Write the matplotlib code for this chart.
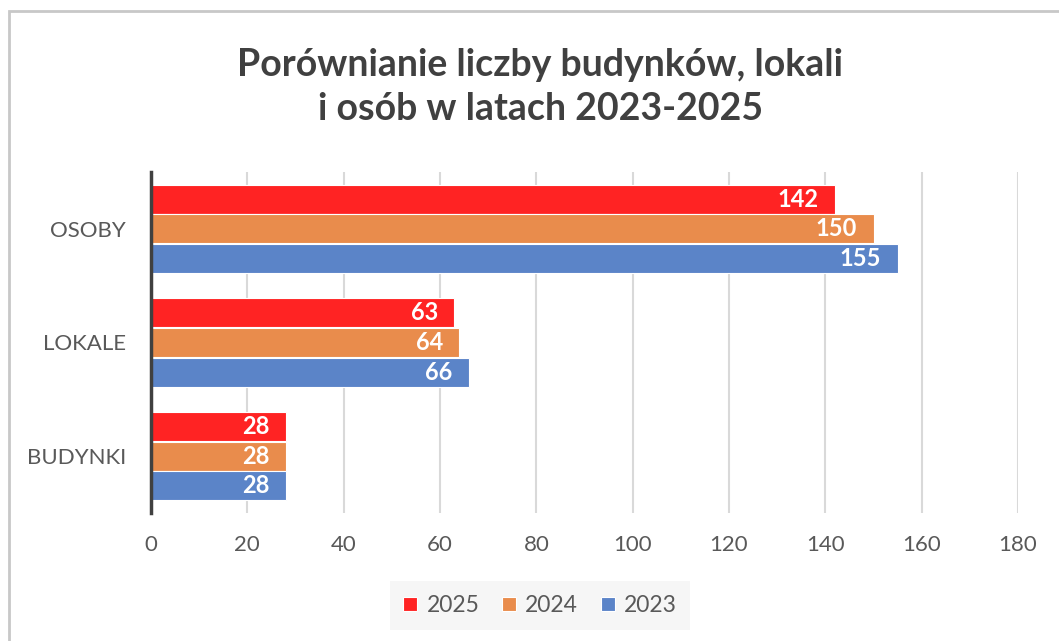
import matplotlib.pyplot as plt
from matplotlib.patches import Rectangle
import numpy as np

categories = ["BUDYNKI", "LOKALE", "OSOBY"]
years = ["2025", "2024", "2023"]
values = {
    "2025": [28, 63, 142],
    "2024": [28, 64, 150],
    "2023": [28, 66, 155],
}
colors = {"2025": "#FF2323", "2024": "#E98C4C", "2023": "#5B84C8"}
xticks = [0, 20, 40, 60, 80, 100, 120, 140, 160, 180]

plt.rcParams["font.family"] = ["Lato", "DejaVu Sans"]

fig = plt.figure(figsize=(10.59, 6.41), dpi=100)
ax = fig.add_axes([0.1426, 0.1997, 0.8187, 0.532])

# outer border (only top/left visible in the reference)
fig.add_artist(Rectangle((9 / 1059, -0.05), 1.1, (641 - 11) / 641 + 0.05,
                         transform=fig.transFigure, fill=False,
                         edgecolor="#c8c8c8", lw=2))

y = np.arange(len(categories))
h = 0.255
offsets = {"2025": h + 0.005, "2024": 0, "2023": -h - 0.005}
for yr in years:
    bars = ax.barh(y + offsets[yr], values[yr], height=h, color=colors[yr],
                   edgecolor="white", linewidth=0.8, label=yr, zorder=3)
    for b, v in zip(bars, values[yr]):
        ax.text(v - 3.4, b.get_y() + b.get_height() / 2, str(v), ha="right",
                va="center", color="white", fontsize=17, fontweight="bold",
                zorder=4)

ax.set_xlim(0, 180)
ax.set_ylim(-0.5, 2.5)
ax.set_xticks(xticks)
ax.set_yticks(y)
ax.set_yticklabels(categories)
ax.grid(axis="x", color="#d9d9d9", lw=1.5, zorder=0)
ax.tick_params(axis="both", length=0, labelsize=16, colors="#595959")
ax.tick_params(axis="x", pad=16)
ax.tick_params(axis="y", pad=18)
for s in ["top", "right", "bottom"]:
    ax.spines[s].set_visible(False)
ax.spines["left"].set_color("#404040")
ax.spines["left"].set_linewidth(2.5)
ax.spines["left"].set_zorder(5)

fig.text(0.51, 0.864, "Porównianie liczby budynków, lokali\ni osób w latach 2023-2025",
         ha="center", va="center", fontsize=27, fontweight="bold",
         color="#404040", linespacing=1.36)

leg = fig.legend(loc="center", bbox_to_anchor=(0.51, 0.055), ncol=3,
                 frameon=True, fontsize=16.5, handlelength=0.6,
                 handleheight=0.6, handletextpad=0.4, columnspacing=1.0,
                 borderpad=0.6)
leg.get_frame().set_facecolor("#f4f4f4")
leg.get_frame().set_edgecolor("none")
leg.get_frame().set_boxstyle("square", pad=0)
for t in leg.get_texts():
    t.set_color("#595959")

fig.savefig("out.png", dpi=100)
